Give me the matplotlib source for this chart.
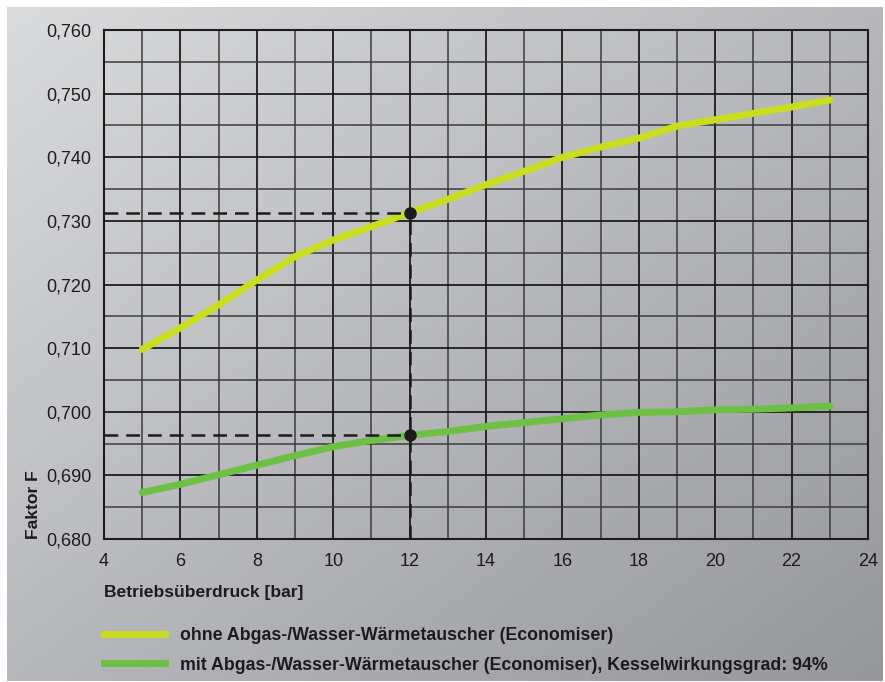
import matplotlib.pyplot as plt
import numpy as np
from matplotlib.colors import LinearSegmentedColormap
from matplotlib.lines import Line2D

plt.rcParams["font.family"] = ["Liberation Sans", "DejaVu Sans"]

# Betriebsüberdruck [bar]
pressure = [5, 6, 7, 8, 9, 10, 11, 12, 13, 14, 15, 16, 17, 18, 19, 20, 21, 22, 23]
# Faktor F ohne Economiser
f_without = [0.7098, 0.7132, 0.7168, 0.7207, 0.7244, 0.7270, 0.7291, 0.7313,
             0.7334, 0.7357, 0.7378, 0.7400, 0.7416, 0.7430, 0.7449, 0.7459,
             0.7469, 0.7479, 0.7490]
# Faktor F mit Economiser
f_with = [0.6873, 0.6886, 0.6901, 0.6916, 0.6931, 0.6945, 0.6955, 0.6963,
          0.6969, 0.6977, 0.6983, 0.6989, 0.6995, 0.6999, 0.7000, 0.7003,
          0.7004, 0.7006, 0.7009]

read_x = 12
read_without = 0.7313
read_with = 0.6963

labels = [
    "ohne Abgas-/Wasser-Wärmetauscher (Economiser)",
    "mit Abgas-/Wasser-Wärmetauscher (Economiser), Kesselwirkungsgrad: 94%",
]
col_without = "#c9dc1e"
col_with = "#6cc044"
ink = "#1c1c1c"

W, H = 885, 682
fig = plt.figure(figsize=(W / 100, H / 100), dpi=100)
fig.patch.set_facecolor("white")

# gray gradient panel behind everything
bg = fig.add_axes([7 / W, 1 - 681 / H, 876 / W, 674 / H], zorder=0)
yy, xx = np.mgrid[0:1:200j, 0:1:200j]
grad = (xx + yy) / 2
cmap = LinearSegmentedColormap.from_list("g", ["#dadbdd", "#b6b8bb", "#95979a"])
bg.imshow(grad, cmap=cmap, aspect="auto", extent=[0, 1, 1, 0])
bg.axis("off")

ax = fig.add_axes([104 / W, 1 - 539 / H, 764 / W, 509 / H], zorder=1)
ax.patch.set_alpha(0)

ax.set_xlim(4, 24)
ax.set_ylim(0.680, 0.760)
ax.set_xticks(np.arange(4, 25, 2))
ax.set_xticks(np.arange(5, 24, 2), minor=True)
ax.set_yticks(np.arange(0.680, 0.7601, 0.010))
ax.set_yticks(np.arange(0.685, 0.760, 0.010), minor=True)
ax.set_yticklabels([f"{v:.3f}".replace(".", ",") for v in ax.get_yticks()])
ax.grid(which="major", color=ink, linewidth=1.3)
ax.grid(which="minor", color="#3c3c3c", linewidth=1.1)
ax.set_axisbelow(True)
ax.tick_params(which="both", length=0, labelsize=13, colors=ink)
ax.tick_params(axis="y", pad=9)
ax.tick_params(axis="x", pad=10)
for s in ax.spines.values():
    s.set_color(ink)
    s.set_linewidth(1.5)

ax.plot(pressure, f_without, color=col_without, lw=5, solid_capstyle="round", zorder=3)
ax.plot(pressure, f_with, color=col_with, lw=5, solid_capstyle="round", zorder=3)

dash = dict(color=ink, lw=1.8, dashes=(5.5, 3.2), zorder=4)
ax.plot([4, read_x], [read_without, read_without], **dash)
ax.plot([4, read_x], [read_with, read_with], **dash)
ax.plot([read_x, read_x], [0.680, read_without], **dash)
ax.plot([read_x, read_x], [read_without, read_with], "o", color=ink, ms=8, zorder=5)

ax.set_xlabel("Betriebsüberdruck [bar]", fontsize=12.6, fontweight="bold",
              color=ink, loc="left", labelpad=11)
ax.set_ylabel("Faktor F", fontsize=12.6, fontweight="bold", color=ink,
              loc="bottom", labelpad=4)

handles = [Line2D([], [], color=col_without, lw=5),
           Line2D([], [], color=col_with, lw=5)]
fig.legend(handles, labels, loc="upper left", bbox_to_anchor=(97 / W, 1 - 620 / H),
           frameon=False, handlelength=3.4, handletextpad=0.85, labelspacing=0.7,
           borderaxespad=0, prop={"size": 12.8, "weight": "bold"}, labelcolor=ink)

fig.savefig("out.png", dpi=100)
